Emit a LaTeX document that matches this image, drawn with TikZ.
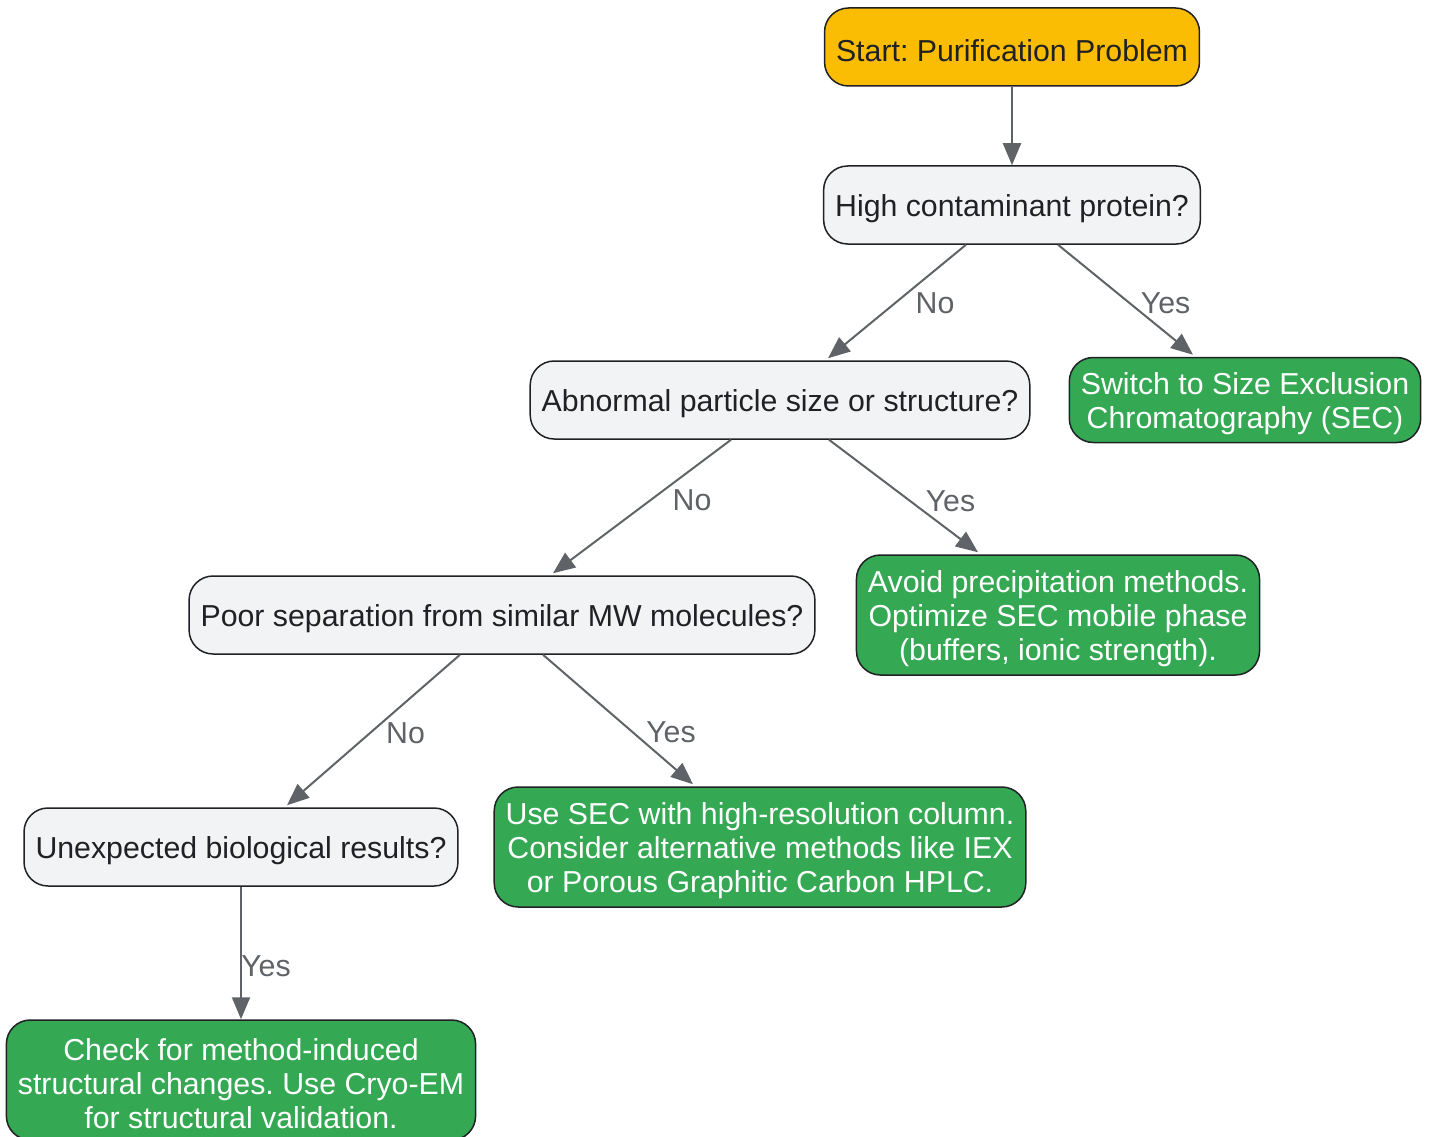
\documentclass[tikz,border=0pt]{standalone}
\usepackage{fontspec}
\setmainfont{Liberation Sans}
\usepackage{tikz}
\usetikzlibrary{shapes.geometric, arrows.meta}
\definecolor{startfill}{HTML}{FBBC04}
\definecolor{askfill}{HTML}{F1F3F4}
\definecolor{endfill}{HTML}{34A853}
\definecolor{edgegray}{HTML}{5F6368}
\definecolor{textdark}{HTML}{202124}
\tikzstyle{startstop} = [rectangle, rounded corners=24pt, minimum height=78pt, inner xsep=11.5pt, inner ysep=4pt, text height=30pt, text centered, draw=textdark, line width=1.5pt, fill=startfill, text=textdark]
\tikzstyle{decision} = [rectangle, rounded corners=24pt, minimum height=78pt, inner xsep=11.5pt, inner ysep=4pt, text height=30pt, text centered, draw=textdark, line width=1.5pt, fill=askfill, text=textdark]
\tikzstyle{answer} = [rectangle, rounded corners=24pt, minimum height=120pt, inner xsep=11.5pt, inner ysep=4pt, text height=98pt, align=center, draw=textdark, line width=1.5pt, fill=endfill, text=white]
\tikzstyle{arrow} = [line width=2pt, draw=edgegray, -{Triangle[length=22pt,width=18pt]}]
\tikzstyle{lbl} = [text=edgegray, inner sep=0pt]
\frenchspacing

\begin{document}
\begin{tikzpicture}[x=1pt, y=-1pt, font=\fontsize{30.3}{34}\selectfont]
	\useasboundingbox (0,0) rectangle (1430,1137);
	\node(start) [startstop] at (1012,47) {Start: Purification Problem};
	\node(high_contaminant) [decision] at (1012,205) {High contaminant protein?};
	\node(switch_sec) [answer, minimum height=85pt, text height=64pt] at (1245,400) {Switch to Size Exclusion\\Chromatography (SEC)};
	\node(abnormal_size) [decision] at (780,400) {Abnormal particle size or structure?};
	\node(avoid_precipitation) [answer] at (1058,615) {Avoid precipitation methods.\\Optimize SEC mobile phase\\(buffers, ionic strength).};
	\node(poor_separation) [decision] at (502,615) {Poor separation from similar MW molecules?};
	\node(use_sec) [answer] at (760,847) {Use SEC with high-resolution column.\\Consider alternative methods like IEX\\or Porous Graphitic Carbon HPLC.};
	\node(unexpected_results) [decision] at (241,847) {Unexpected biological results?};
	\node(check_structure) [answer] at (241,1080) {Check for method-induced\\structural changes. Use Cryo-EM\\for structural validation.};

	\draw[arrow] (start) -- (high_contaminant);
	\draw[arrow] ([xshift=-46pt]high_contaminant.south) -- node[lbl, xshift=38pt, yshift=-2pt] {No} ([xshift=48pt,yshift=2pt]abnormal_size.north);
	\draw[arrow] ([xshift=46pt]high_contaminant.south) -- node[lbl, xshift=40pt, yshift=-3pt] {Yes} ([xshift=-52pt,yshift=2pt]switch_sec.north);
	\draw[arrow] ([xshift=-49pt]abnormal_size.south) -- node[lbl, xshift=50pt, yshift=6pt] {No} ([xshift=51pt,yshift=2pt]poor_separation.north);
	\draw[arrow] ([xshift=49pt]abnormal_size.south) -- node[lbl, xshift=47pt, yshift=-5pt] {Yes} ([xshift=-80pt,yshift=2pt]avoid_precipitation.north);
	\draw[arrow] ([xshift=-42pt]poor_separation.south) -- node[lbl, xshift=32pt, yshift=-3pt] {No} ([xshift=46pt,yshift=2pt]unexpected_results.north);
	\draw[arrow] ([xshift=41pt]poor_separation.south) -- node[lbl, xshift=53pt, yshift=-13pt] {Yes} ([xshift=-67pt,yshift=2pt]use_sec.north);
	\draw[arrow] (unexpected_results) -- node[lbl, xshift=25pt, yshift=-13pt] {Yes} (check_structure);
\end{tikzpicture}
\end{document}
